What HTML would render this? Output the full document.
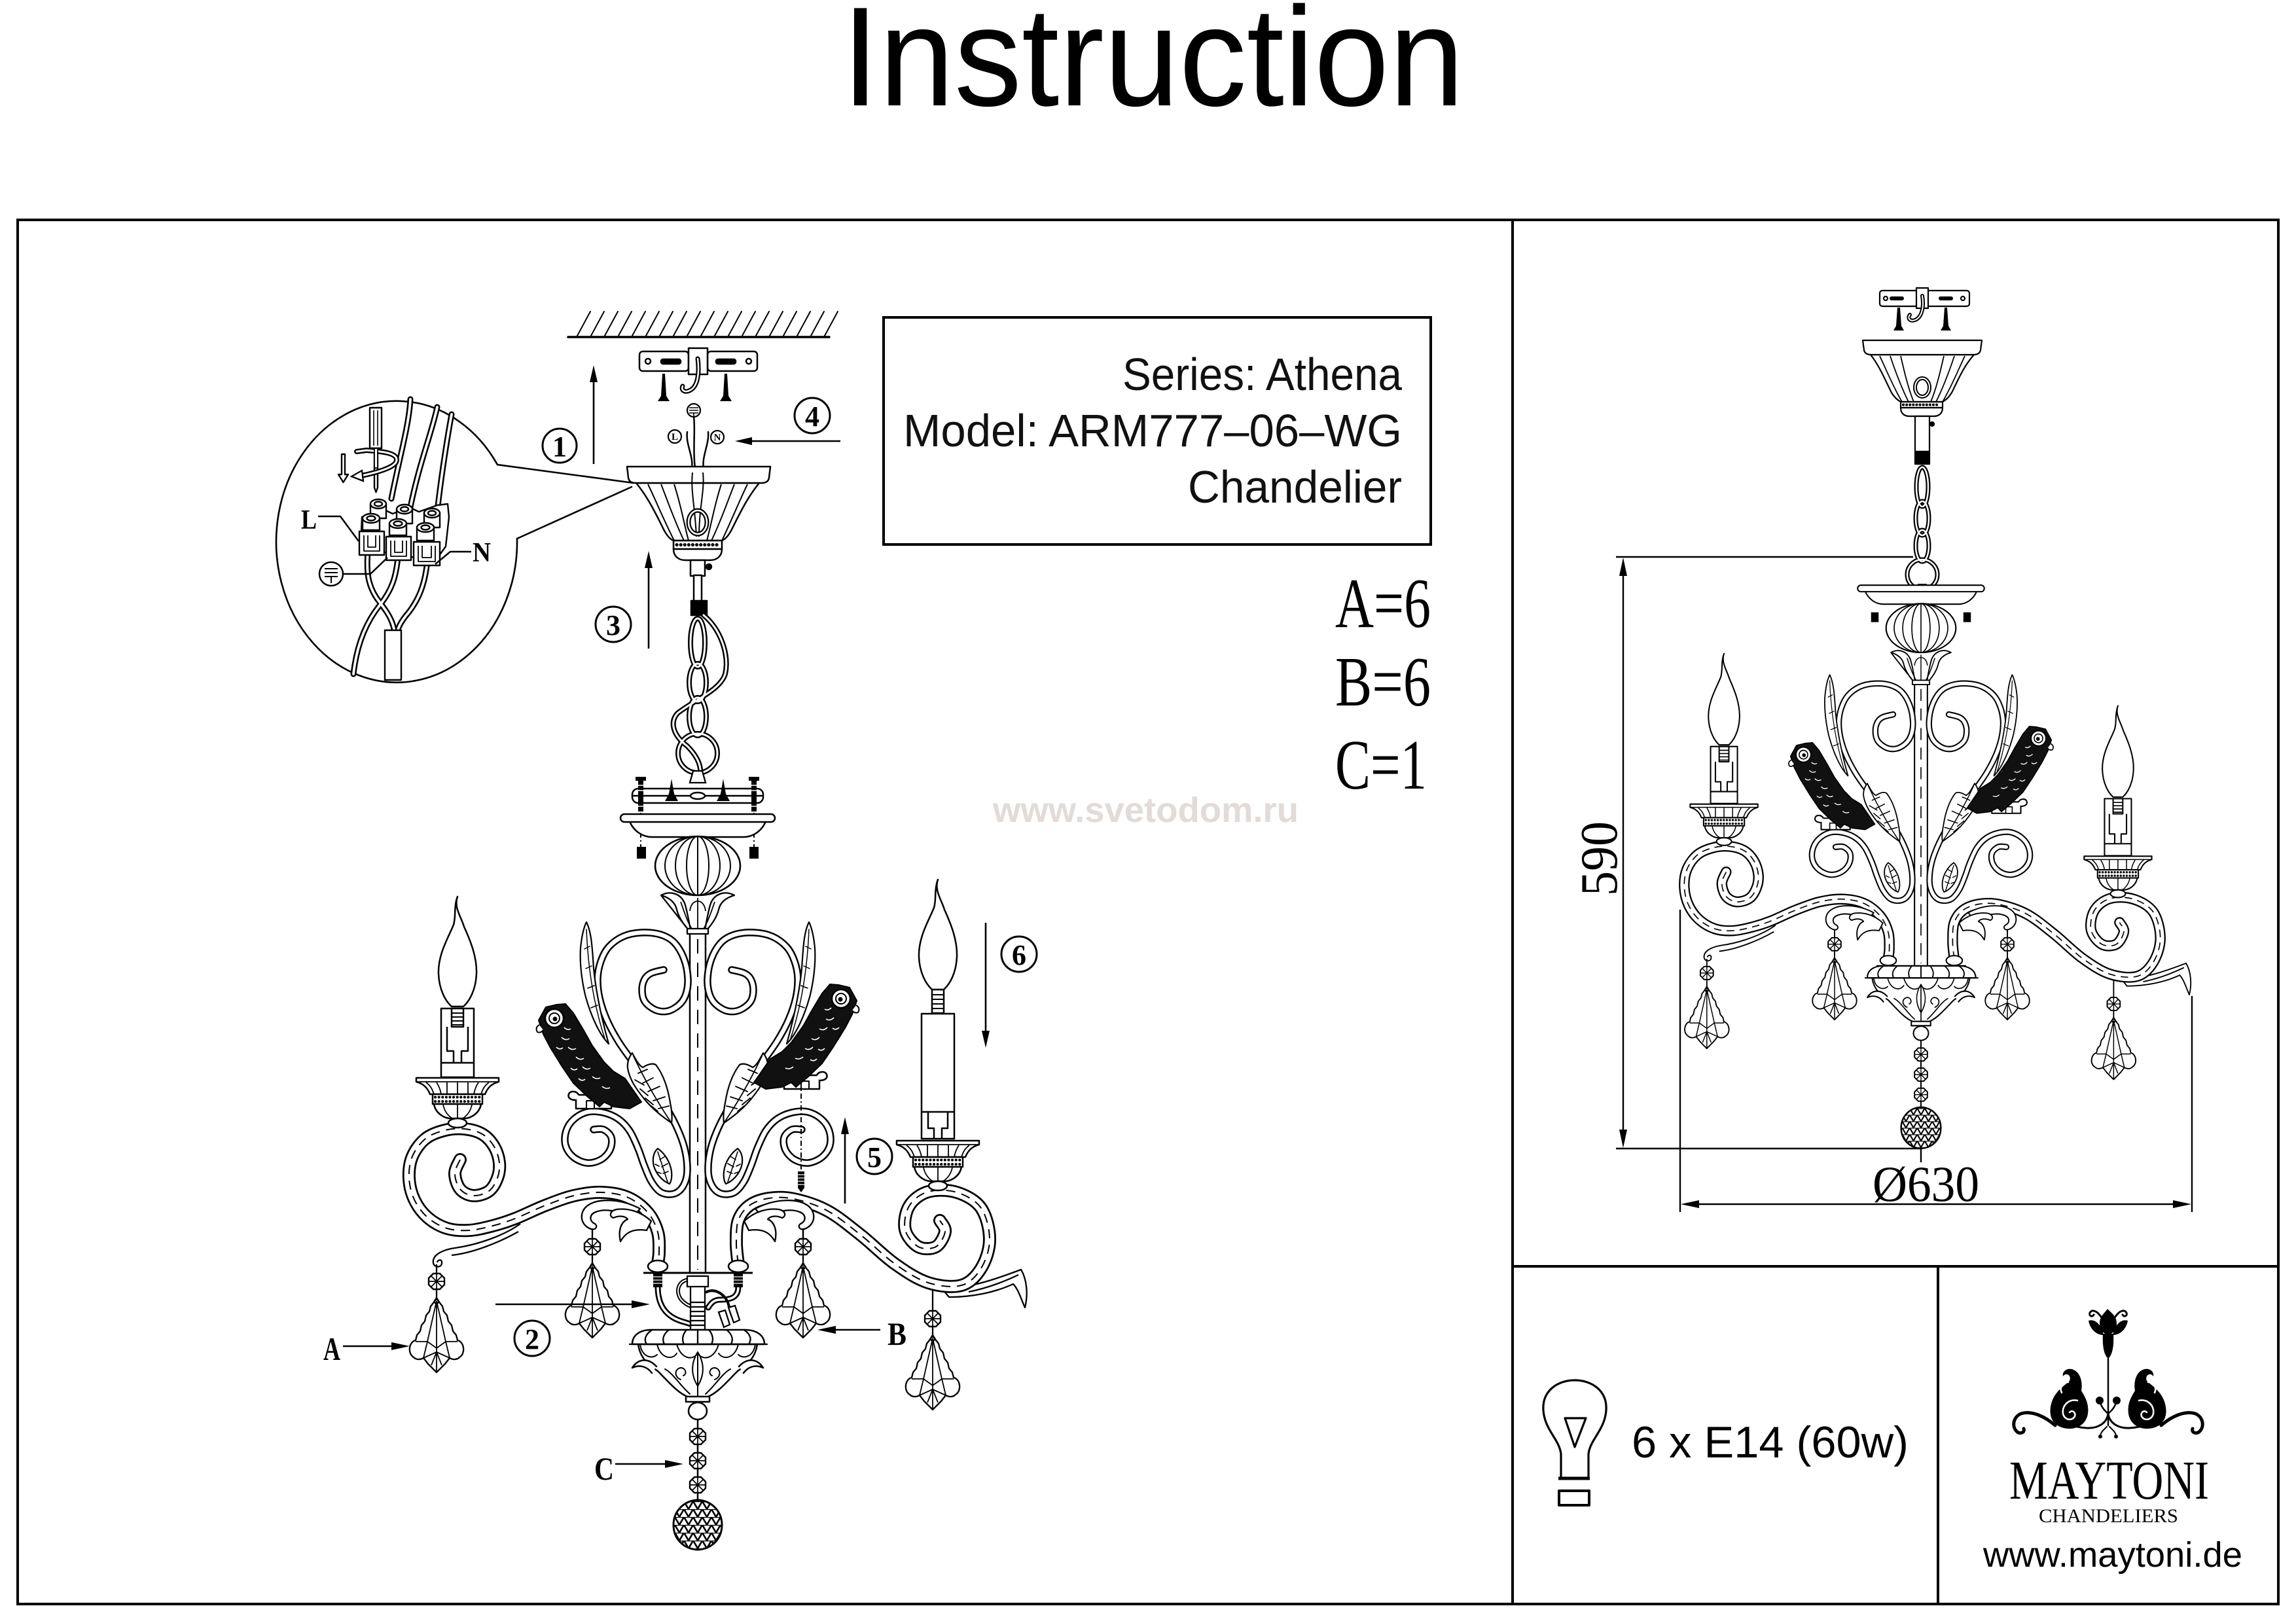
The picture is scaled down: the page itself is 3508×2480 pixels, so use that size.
<!DOCTYPE html>
<html><head><meta charset="utf-8"><title>Instruction</title>
<style>html,body{margin:0;padding:0;background:#fff;overflow:hidden}svg{display:block}</style>
</head><body>
<svg xmlns="http://www.w3.org/2000/svg" width="3508" height="2480" viewBox="0 0 3508 2480">
<defs>
<pattern id="tri" patternUnits="userSpaceOnUse" width="14" height="12"><path d="M0,12 L7,0 L14,12 M0,0 H14" fill="none" stroke="#000" stroke-width="2.6"/></pattern>

<polyline id="HL" class="sm" points="1014,1482 995,1487 985,1496 981,1512 985,1530 1001,1543 1020,1545 1038,1535 1048,1519 1051,1495 1045,1465 1030,1440 1009,1428 980,1425 952,1431 930,1447 918,1469 913,1495 916,1525 927,1558 944,1590 965,1620 988,1650 1012,1683 1032,1718 1046,1755 1050,1790 1044,1812 1030,1824 1010,1822 995,1805 984,1780 975,1755 962,1728 945,1710 922,1700 898,1699 877,1710 865,1728 864,1750 876,1768 897,1777 918,1772 932,1757 934,1738 922,1726 907,1726"/>
<polyline id="AL" class="sm" points="703,1772 695,1793 703,1817 723,1827 747,1820 760,1800 763,1777 755,1752 737,1733 710,1725 680,1727 650,1740 630,1767 625,1800 633,1833 653,1860 683,1877 717,1880 753,1873 787,1862 833,1842 877,1827 920,1822 960,1830 990,1853 1005,1883 1007,1913 1005,1930"/>
<polyline id="AR" class="sm" points="1128,1932 1125,1900 1128,1865 1145,1842 1175,1831 1213,1832 1264,1850 1315,1887 1367,1931 1418,1960 1469,1964 1499,1938 1512,1894 1499,1846 1462,1822 1418,1821 1389,1843 1383,1879 1403,1905 1430,1905 1444,1882 1436,1865"/>

<g id="bead">
<polygon points="12,5 5,12 -5,12 -12,5 -12,-5 -5,-12 5,-12 12,-5" fill="#fff" stroke="#000" stroke-width="2.4"/>
<path d="M0,-12V12M-12,0H12M-8.5,-8.5L8.5,8.5M-8.5,8.5L8.5,-8.5" stroke="#000" stroke-width="1.7" fill="none"/>
</g>

<g id="pend" fill="none" stroke="#000" stroke-width="2.3" stroke-linejoin="round">
<line x1="0" y1="12" x2="0" y2="27"/>
<path fill="#fff" d="M0,25 L5,33 L9,38 L11,46 L16,52 L18,61 L23,67 L25,76 L30,82 L32,90 C42,92 45,110 35,116 C31,120 25,120 20,117 L13,126 L0,139 L-13,126 L-20,117 C-25,120 -31,120 -35,116 C-45,110 -42,92 -32,90 L-30,82 L-25,76 L-23,67 L-18,61 L-16,52 L-11,46 L-9,38 L-5,33 Z"/>
<path d="M0,30 V139 M0,30 L-14,92 M0,30 L14,92 M-32,92 L-14,92 L0,102 L14,92 L32,92 M-14,92 L-20,117 M14,92 L20,117 M-20,117 L0,108 L20,117 M0,108 L-8,128 M0,108 L8,128" stroke-width="1.8"/>
<circle cx="0" cy="31" r="3"/>
<use href="#bead"/>
</g>

<g id="ball"><path d="M0,-38 C21,-37 37,-21 37,0 C37,22 21,37 0,38 C-21,37 -37,22 -37,0 C-37,-21 -21,-37 0,-38 Z" fill="url(#tri)" stroke="#000" stroke-width="3"/></g>

<g id="flame"><path d="M0,-278 C-6,-262 6,-246 10,-232 C20,-210 30,-185 29,-160 C28,-135 18,-118 9,-110 L-9,-110 C-18,-118 -28,-135 -29,-160 C-30,-190 -14,-215 -6,-235 C-2,-248 -6,-262 0,-278 Z" fill="#fff" stroke="#000" stroke-width="2.5"/></g>

<g id="ctop" fill="#fff" stroke="#000" stroke-width="2.5" stroke-linejoin="round">
<rect x="-25" y="-107" width="50" height="105"/>
<rect x="-9" y="-107" width="18" height="28"/>
<path d="M-9,-100 H9 M-9,-94 H9 M-9,-88 H9 M-9,-82 H9" fill="none" stroke-width="2"/>
<path d="M-16,-79 V-42 H-6 V-24 H6 V-42 H16 V-79 M-25,-24 H25" fill="none"/>
<use href="#flame"/>
</g>

<g id="cup" stroke="#000" stroke-width="2.5" stroke-linejoin="round">
<path d="M-63,-1 H63 V5 C52,8 46,14 42,24 H-42 C-46,14 -52,8 -63,5 Z" fill="#fff"/>
<path d="M-63,5 H63 M-48,6 C-40,12 -38,18 -36,24 M-32,6 C-28,12 -26,18 -25,24 M-16,6 V24 M0,6 V24 M16,6 V24 M32,6 C28,12 26,18 25,24 M48,6 C40,12 38,18 36,24" fill="none" stroke-width="1.8"/>
<rect x="-38" y="24" width="76" height="15" fill="#fff"/>
<line x1="-34" y1="28.5" x2="34" y2="28.5" stroke-dasharray="0.1 5.5" stroke-linecap="round" stroke-width="4"/>
<line x1="-34" y1="35" x2="34" y2="35" stroke-dasharray="0.1 5.5" stroke-linecap="round" stroke-width="4"/>
<path d="M-36,39 C-34,52 -22,60 -12,61 H12 C22,60 34,52 36,39 Z" fill="#fff"/>
<path d="M-22,40 C-20,50 -14,57 -8,61 M0,40 V61 M22,40 C20,50 14,57 8,61" fill="none" stroke-width="1.8"/>
<ellipse cx="0" cy="68" rx="14" ry="7" fill="#fff"/>
</g>

<g id="bird" stroke="#000" stroke-linejoin="round">
<path d="M880,1673 H934 V1694 H880 Z" fill="#fff" stroke-width="2.5"/>
<path d="M880,1681 C870,1681 866,1676 870,1670 C874,1666 882,1668 884,1673" fill="#fff" stroke-width="2.5"/>
<rect x="896" y="1682" width="12" height="12" fill="#fff" stroke-width="2"/>
<path d="M823,1559 L834,1539 851,1535 864,1534 876,1548 891,1573 905,1598 923,1623 937,1637 955,1648 L980,1684 962,1694 937,1691 923,1684 916,1691 898,1676 876,1655 859,1630 841,1601 830,1580 Z" fill="#111" stroke-width="2"/>
<path d="M858,1585 q6,6 12,2 M868,1600 q6,6 12,2 M880,1615 q6,6 12,2 M862,1570 q5,5 10,2 M890,1630 q6,6 12,2 M905,1645 q6,5 12,2 M872,1632 q5,5 10,1 M850,1600 q5,5 10,1 M920,1660 q6,5 12,2 M884,1648 q5,5 10,1" fill="none" stroke="#fff" stroke-width="1.6"/>
<circle cx="847" cy="1556" r="14" fill="#fff" stroke-width="2.5"/>
<circle cx="847" cy="1556" r="8" fill="none" stroke-width="2"/>
<circle cx="848" cy="1557" r="3" fill="#000"/>
<path d="M824,1566 q-7,4 -3,11 q5,2 9,-3" fill="#fff" stroke-width="2"/>
</g>

<g id="leafs" stroke="#000" stroke-width="2.2" stroke-linejoin="round" stroke-linecap="round">
<path d="M896,1409 C904,1425 905,1450 907,1480 C910,1510 916,1545 930,1595 C915,1580 902,1550 894,1520 C887,1490 885,1460 888,1440 C890,1425 893,1415 896,1409 Z" fill="#fff"/>
<path d="M896,1420 C898,1470 905,1530 925,1590 M893,1450 l8,-4 M895,1480 l9,-4 M898,1510 l10,-4 M903,1540 l10,-4" fill="none" stroke-width="1.5"/>
<path d="M966,1609 C972,1620 976,1628 982,1631 C990,1626 997,1624 1002,1627 C1012,1640 1020,1660 1024,1685 C1027,1700 1027,1710 1026,1716 C1015,1708 1000,1698 985,1680 C972,1664 962,1650 959,1632 C958,1622 962,1614 966,1609 Z" fill="#fff"/>
<path d="M968,1614 C985,1650 1005,1685 1026,1716 M975,1640 l14,-6 M982,1655 l16,-8 M990,1668 l18,-8 M998,1682 l18,-6 M1006,1694 l16,-4 M970,1650 l14,8 M978,1664 l12,10 M986,1678 l12,10 M995,1690 l10,8" fill="none" stroke-width="1.8"/>
<path d="M1005,1755 C1015,1762 1024,1775 1026,1790 C1027,1800 1025,1806 1023,1809 C1013,1805 1003,1795 999,1782 C996,1770 999,1760 1005,1755 Z" fill="#fff"/>
<path d="M1005,1760 L1020,1806 M1008,1772 l8,-5 M1011,1783 l9,-5 M1013,1793 l8,-3 M1007,1782 l-6,-3 M1010,1793 l-6,-2" fill="none" stroke-width="1.6"/>
</g>

<g id="acan" fill="#fff" stroke="#000" stroke-width="2.3" stroke-linejoin="round" stroke-linecap="round">
<path d="M978,1847 C950,1832 915,1830 898,1842 C884,1852 886,1872 903,1878 C910,1880 914,1874 909,1870 C900,1866 900,1856 910,1852 C925,1846 945,1850 965,1862 Z"/>
<path d="M995,1866 C978,1850 958,1846 942,1848 C932,1850 930,1858 937,1861 C946,1857 955,1858 959,1863 C949,1867 944,1880 948,1897 C956,1883 967,1877 988,1880 Z"/>
<path d="M905,1878 V1893" fill="none"/>
</g>

<g id="body" stroke-linejoin="round">
<rect x="973" y="1294" width="14" height="18" fill="#000"/>
<rect x="1145" y="1294" width="14" height="18" fill="#000"/>
<path d="M962,1255 C968,1270 982,1279 996,1279 H1136 C1150,1279 1164,1270 1170,1255 Z" fill="#fff" stroke="#000" stroke-width="2.5"/>
<rect x="948" y="1244" width="236" height="12" rx="6" fill="#fff" stroke="#000" stroke-width="2.5"/>
<ellipse cx="1066" cy="1323" rx="65" ry="45" fill="#fff" stroke="#000" stroke-width="2.6"/>
<g fill="none" stroke="#000" stroke-width="2"><ellipse cx="1066" cy="1323" rx="50" ry="45"/><ellipse cx="1066" cy="1323" rx="34" ry="45"/><ellipse cx="1066" cy="1323" rx="17" ry="45"/><line x1="1066" y1="1278" x2="1066" y2="1368"/></g>
<path d="M1010,1368 C1025,1360 1040,1366 1046,1380 C1050,1392 1052,1405 1055,1421 H1077 C1080,1405 1082,1392 1086,1380 C1092,1366 1107,1360 1122,1368 C1108,1372 1100,1380 1098,1390 C1095,1402 1088,1412 1080,1421 M1052,1421 C1044,1412 1037,1402 1034,1390 C1032,1380 1024,1372 1010,1368 Z" fill="#fff" stroke="#000" stroke-width="2.3"/>
<path d="M1054,1392 C1056,1372 1076,1372 1078,1392 M1066,1372 V1420 M1040,1378 C1046,1395 1050,1408 1058,1421 M1092,1378 C1086,1395 1082,1408 1074,1421" fill="none" stroke="#000" stroke-width="1.8"/>
<rect x="1054" y="1425" width="24" height="520" fill="#fff" stroke="#000" stroke-width="2.5"/>
<line x1="1066" y1="1435" x2="1066" y2="1940" stroke="#000" stroke-width="2" stroke-dasharray="22 14"/>
<rect x="1050" y="1419" width="32" height="8" fill="#fff" stroke="#000" stroke-width="2.3"/>
<g fill="none" stroke-linecap="round" stroke-linejoin="round">
<use href="#HL" stroke="#000" stroke-width="11.5"/>
<use href="#HL" stroke="#fff" stroke-width="6.5"/>
<use href="#HL" transform="translate(2132,0) scale(-1,1)" stroke="#000" stroke-width="11.5"/>
<use href="#HL" transform="translate(2132,0) scale(-1,1)" stroke="#fff" stroke-width="6.5"/>
</g>
<use href="#leafs"/>
<use href="#leafs" transform="translate(2132,0) scale(-1,1)"/>
<use href="#bird"/>
<use href="#bird" transform="translate(2132,-30) scale(-1,1)"/>
<path d="M795,1870 C770,1888 730,1902 695,1907 C675,1910 660,1918 662,1930 C664,1938 675,1937 675,1930 C676,1924 669,1924 668,1929 M690,1918 C720,1915 760,1900 792,1882" fill="#fff" stroke="#000" stroke-width="2.3"/>
<path d="M1440,1970 C1485,1968 1528,1952 1560,1940 C1569,1955 1571,1978 1566,1998 C1560,1985 1556,1970 1548,1962 C1520,1975 1485,1982 1450,1982 Z M1480,1974 C1510,1968 1535,1958 1556,1948" fill="#fff" stroke="#000" stroke-width="2.3"/>
<g fill="none" stroke-linecap="round" stroke-linejoin="round">
<use href="#AL" stroke="#000" stroke-width="20"/>
<use href="#AL" stroke="#fff" stroke-width="14.5"/>
<use href="#AL" stroke="#000" stroke-width="2" stroke-dasharray="14 10" stroke-linecap="butt"/>
<use href="#AR" stroke="#000" stroke-width="20"/>
<use href="#AR" stroke="#fff" stroke-width="14.5"/>
<use href="#AR" stroke="#000" stroke-width="2" stroke-dasharray="14 10" stroke-linecap="butt"/>
</g>
<use href="#acan"/>
<use href="#acan" transform="translate(2132,0) scale(-1,1)"/>
<line x1="983" y1="1945" x2="1150" y2="1945" stroke="#000" stroke-width="3"/>
<ellipse cx="1005" cy="1935" rx="15" ry="9" fill="#fff" stroke="#000" stroke-width="2.5"/>
<ellipse cx="1128" cy="1935" rx="15" ry="9" fill="#fff" stroke="#000" stroke-width="2.5"/>
<use href="#cup" transform="translate(699,1648)"/>
<use href="#cup" transform="translate(1433,1744)"/>
<line x1="667" y1="1932" x2="667" y2="1946" stroke="#000" stroke-width="2.3"/>
<line x1="1227" y1="1878" x2="1227" y2="1893" stroke="#000" stroke-width="2.3"/>
<line x1="1425" y1="1972" x2="1425" y2="2003" stroke="#000" stroke-width="2.3"/>
<use href="#pend" transform="translate(667,1958)"/>
<use href="#pend" transform="translate(905,1905)"/>
<use href="#pend" transform="translate(1227,1905)"/>
<use href="#pend" transform="translate(1425,2015)"/>
</g>

<g id="lower" stroke="#000" stroke-width="2.5" stroke-linejoin="round" stroke-linecap="round">
<line x1="1066" y1="2168" x2="1066" y2="2294"/>
<use href="#bead" transform="translate(1066,2195)"/>
<use href="#bead" transform="translate(1066,2232)"/>
<use href="#bead" transform="translate(1066,2269)"/>
<use href="#ball" transform="translate(1066,2330)"/>
<ellipse cx="1066" cy="2156" rx="14" ry="13" fill="#fff"/>
<rect x="1048" y="2133" width="36" height="9" fill="#fff"/>
<path d="M975,2054 C978,2075 990,2085 1005,2095 C1020,2110 1035,2128 1050,2134 H1082 C1097,2128 1112,2110 1127,2095 C1142,2085 1154,2075 1157,2054 Z" fill="#fff"/>
<path d="M1003,2088 C990,2074 975,2076 966,2090 C980,2084 990,2090 996,2098 M1129,2088 C1142,2074 1157,2076 1166,2090 C1152,2084 1142,2090 1136,2098" fill="#fff"/>
<path d="M1066,2066 C1056,2082 1055,2100 1066,2118 C1077,2100 1076,2082 1066,2066 M1066,2066 V2134 M1040,2108 C1030,2104 1030,2092 1040,2090 C1048,2090 1050,2100 1044,2102 M1092,2108 C1102,2104 1102,2092 1092,2090 C1084,2090 1082,2100 1088,2102 M1016,2092 C1028,2098 1040,2118 1054,2130 M1116,2092 C1104,2098 1092,2118 1078,2130" fill="none" stroke-width="2"/>
<path d="M978,2054 C980,2072 995,2078 1004,2070 M1004,2054 C1008,2074 1026,2080 1034,2068 M1034,2054 C1040,2076 1058,2080 1066,2068 M1066,2068 C1074,2080 1092,2076 1098,2054 M1098,2068 C1106,2080 1124,2074 1128,2054 M1128,2070 C1137,2078 1152,2072 1154,2054" fill="none" stroke-width="2"/>
<path d="M966,2054 C966,2040 978,2032 995,2032 H1138 C1155,2032 1168,2040 1168,2054 Z" fill="#fff"/>
<path d="M962,2054 H1172 M995,2033 C985,2040 984,2048 988,2054 M1022,2032 C1012,2040 1012,2048 1015,2054 M1049,2032 C1042,2040 1042,2048 1045,2054 M1083,2032 C1090,2040 1090,2048 1087,2054 M1110,2032 C1120,2040 1120,2048 1117,2054 M1138,2033 C1148,2040 1148,2048 1144,2054 M1066,2034 V2054" fill="none" stroke-width="2.3"/>
</g>
</defs>

<rect width="3508" height="2480" fill="#fff"/>

<!-- Title and frame -->
<text x="1286" y="161" font-family="'Liberation Sans', Arial, sans-serif" font-size="216" textLength="951" lengthAdjust="spacingAndGlyphs">Instruction</text>
<g fill="none" stroke="#000" stroke-width="4">
<rect x="27" y="336" width="3454" height="2115"/>
<line x1="2311" y1="336" x2="2311" y2="2451"/>
<line x1="2311" y1="1935" x2="3481" y2="1935"/>
<line x1="2961" y1="1935" x2="2961" y2="2451"/>
</g>

<!-- info box -->
<rect x="1350" y="485" width="836" height="347" fill="none" stroke="#000" stroke-width="4"/>
<g font-family="'Liberation Sans', Arial, sans-serif" font-size="70" fill="#111">
<text x="1715" y="596" textLength="427" lengthAdjust="spacingAndGlyphs">Series: Athena</text>
<text x="1380" y="682" textLength="762" lengthAdjust="spacingAndGlyphs">Model: ARM777–06–WG</text>
<text x="1815" y="768" textLength="327" lengthAdjust="spacingAndGlyphs">Chandelier</text>
</g>
<g font-family="'Liberation Serif', 'Times New Roman', serif" font-size="108" fill="#000">
<text x="2040" y="958" textLength="146" lengthAdjust="spacingAndGlyphs">A=6</text>
<text x="2040" y="1078" textLength="146" lengthAdjust="spacingAndGlyphs">B=6</text>
<text x="2040" y="1205" textLength="140" lengthAdjust="spacingAndGlyphs">C=1</text>
</g>
<text x="1517" y="1256" font-family="'Liberation Sans', Arial, sans-serif" font-weight="bold" font-size="54" fill="#e2dbd8" textLength="467" lengthAdjust="spacingAndGlyphs">www.svetodom.ru</text>

<!-- ===== LEFT DRAWING ===== -->
<g fill="none" stroke="#000" stroke-width="2.5" stroke-linejoin="round" stroke-linecap="round">
<line x1="868" y1="515" x2="1267" y2="515" stroke-width="3.5"/>
<path d="M882,513 l20,-37 M903,513 l20,-37 M924,513 l20,-37 M945,513 l20,-37 M966,513 l20,-37 M987,513 l20,-37 M1008,513 l20,-37 M1029,513 l20,-37 M1050,513 l20,-37 M1071,513 l20,-37 M1092,513 l20,-37 M1113,513 l20,-37 M1134,513 l20,-37 M1155,513 l20,-37 M1176,513 l20,-37 M1197,513 l20,-37 M1218,513 l20,-37 M1239,513 l20,-37 M1260,513 l20,-37" stroke-width="2"/>
<rect x="977" y="537" width="75" height="30" rx="5" fill="#fff"/>
<rect x="1081" y="537" width="76" height="30" rx="5" fill="#fff"/>
<rect x="1052" y="532" width="29" height="40" fill="#fff"/>
<circle cx="990" cy="552" r="4"/><circle cx="1144" cy="552" r="4"/>
<rect x="1010" y="549" width="30" height="7" rx="3" fill="#000"/>
<rect x="1094" y="549" width="30" height="7" rx="3" fill="#000"/>
<path d="M1066,548 C1069,570 1066,590 1055,596 C1046,601 1040,596 1043,590" stroke-width="7"/>
<path d="M1066,548 C1069,570 1066,590 1055,596 C1046,601 1040,596 1043,590" stroke="#fff" stroke-width="2.5"/>
</g>
<path d="M1012,571 H1016 L1018,605 L1023,613 H1005 L1010,605 Z M1107,571 H1111 L1113,605 L1118,613 H1100 L1105,605 Z" fill="#000"/>
<g fill="#fff" stroke="#000" stroke-width="2.2">
<circle cx="1060" cy="627" r="10"/>
<path d="M1053,623 H1067 M1053,627 H1067 M1053,631 H1067 M1060,631 V636" fill="none" stroke-width="1.6"/>
<circle cx="1031" cy="667" r="10"/><circle cx="1096" cy="668" r="10"/>
</g>
<g font-family="'Liberation Serif', serif" font-weight="bold" font-size="15" text-anchor="middle"><text x="1031" y="672">L</text><text x="1096" y="673">N</text></g>
<g fill="none" stroke="#000" stroke-width="2.5" stroke-linecap="round">
<path d="M1060,637 C1063,660 1057,690 1064,730 C1066,760 1062,780 1066,800"/>
<path d="M1050,660 C1047,680 1062,700 1056,720 C1052,745 1060,770 1058,800"/>
<path d="M1082,660 C1084,680 1070,700 1076,720 C1080,745 1070,770 1074,800"/>
</g>
<g fill="#fff" stroke="#000" stroke-width="2.5" stroke-linejoin="round">
<path d="M972,738 C990,760 1002,785 1012,805 C1018,818 1024,824 1029,826 H1103 C1108,824 1114,818 1120,805 C1130,785 1142,760 1160,738 Z"/>
<path d="M958,713 H1177 L1175,730 C1174,736 1170,738 1163,738 H972 C965,738 961,736 960,730 Z"/>
<path d="M990,740 C1000,760 1012,790 1030,826 M1010,740 C1020,765 1030,795 1045,826 M1030,740 C1040,770 1045,800 1052,826 M1102,740 C1092,770 1087,800 1080,826 M1122,740 C1112,765 1102,795 1087,826 M1142,740 C1132,760 1120,790 1103,826" fill="none" stroke-width="2"/>
<path d="M1058,722 C1055,750 1062,775 1064,820 M1074,722 C1077,750 1068,775 1068,820" fill="none" stroke-width="2"/>
<ellipse cx="1066" cy="798" rx="14" ry="18" fill="none" stroke-width="7"/>
<ellipse cx="1066" cy="798" rx="14" ry="18" fill="none" stroke="#fff" stroke-width="2.5"/>
<rect x="1029" y="826" width="74" height="13"/>
<line x1="1034" y1="832.5" x2="1099" y2="832.5" stroke-dasharray="0.1 6" stroke-linecap="round" stroke-width="5"/>
<path d="M1029,839 H1103 C1103,850 1095,856 1085,856 H1047 C1037,856 1029,850 1029,839 Z"/>
<rect x="1055" y="856" width="22" height="24"/>
<circle cx="1083" cy="866" r="4" fill="#000"/>
<rect x="1060" y="879" width="12" height="40"/>
<rect x="1056" y="918" width="24" height="22" fill="#000"/>
</g>
<g fill="none" stroke-linecap="round">
<g stroke="#000" stroke-width="8">
<ellipse cx="1066" cy="982" rx="11" ry="37"/><ellipse cx="1066" cy="1043" rx="13" ry="29"/><ellipse cx="1066" cy="1095" rx="13" ry="29"/><circle cx="1066" cy="1151" r="30"/>
<path d="M1075,940 C1100,960 1115,1000 1108,1030 C1100,1055 1060,1070 1035,1090 C1022,1105 1030,1125 1050,1140 C1065,1155 1072,1170 1070,1185"/>
</g>
<g stroke="#fff" stroke-width="3">
<ellipse cx="1066" cy="982" rx="11" ry="37"/><ellipse cx="1066" cy="1043" rx="13" ry="29"/><ellipse cx="1066" cy="1095" rx="13" ry="29"/><circle cx="1066" cy="1151" r="30"/>
<path d="M1075,940 C1100,960 1115,1000 1108,1030 C1100,1055 1060,1070 1035,1090 C1022,1105 1030,1125 1050,1140 C1065,1155 1072,1170 1070,1185"/>
</g>
</g>
<path d="M1059,1178 H1073 L1078,1196 H1054 Z" fill="#fff" stroke="#000" stroke-width="2.3"/>
<g stroke="#000" stroke-width="2.5">
<rect x="966" y="1205" width="200" height="22" rx="9" fill="#fff"/>
<line x1="966" y1="1216" x2="1166" y2="1216"/>
<ellipse cx="1066" cy="1216" rx="11" ry="5" fill="#fff"/>
<line x1="979" y1="1242" x2="979" y2="1294" stroke-dasharray="6 4 2 4" stroke-width="2"/>
<line x1="1152" y1="1242" x2="1152" y2="1294" stroke-dasharray="6 4 2 4" stroke-width="2"/>
</g>
<path d="M971,1187 H987 V1193 H983 V1240 H975 V1193 H971 Z M1144,1187 H1160 V1193 H1156 V1240 H1148 V1193 H1144 Z M1026,1190 L1030,1213 L1036,1224 H1016 L1022,1213 Z M1105,1190 L1109,1213 L1115,1224 H1095 L1101,1213 Z" fill="#000"/>
<path d="M975,1200 h8 M975,1208 h8 M975,1232 h8 M1148,1200 h8 M1148,1208 h8 M1148,1232 h8" stroke="#fff" stroke-width="1.5"/>

<use href="#body"/>
<use href="#ctop" transform="translate(699,1648)"/>
<g transform="translate(1433,1744)" fill="#fff" stroke="#000" stroke-width="2.5" stroke-linejoin="round">
<rect x="-25" y="-195" width="50" height="191"/>
<path d="M-25,-45 H25 M-15,-45 V-20 H-6 V-4 M6,-4 V-20 H15 V-45" fill="none"/>
<rect x="-9" y="-232" width="18" height="36"/>
<path d="M-9,-224 H9 M-9,-217 H9 M-9,-210 H9 M-9,-203 H9" fill="none" stroke-width="2"/>
<use href="#flame" transform="translate(0,-122)"/>
</g>
<g stroke="#000" stroke-linejoin="round" stroke-linecap="round" fill="none">
<path d="M1005,1966 C1005,1992 1015,2012 1045,2020 L1058,2024" stroke-width="9"/>
<path d="M1005,1966 C1005,1992 1015,2012 1045,2020 L1058,2024" stroke="#fff" stroke-width="3.5"/>
<path d="M1128,1966 C1128,1982 1118,1986 1100,1986 C1090,1986 1086,1992 1082,1998" stroke-width="9"/>
<path d="M1128,1966 C1128,1982 1118,1986 1100,1986 C1090,1986 1086,1992 1082,1998" stroke="#fff" stroke-width="3.5"/>
<path d="M1058,1956 C1040,1952 1030,1970 1040,1985 C1046,1992 1052,1995 1056,1996" stroke-width="6"/>
<path d="M1058,1956 C1040,1952 1030,1970 1040,1985 C1046,1992 1052,1995 1056,1996" stroke="#fff" stroke-width="2"/>
</g>
<rect x="998" y="1946" width="14" height="21" fill="#000"/>
<rect x="1121" y="1946" width="14" height="21" fill="#000"/>
<path d="M998,1951 h14 M998,1956 h14 M998,1961 h14 M1121,1951 h14 M1121,1956 h14 M1121,1961 h14" stroke="#fff" stroke-width="1.3"/>
<g fill="#fff" stroke="#000" stroke-width="2.3">
<rect x="1055" y="1950" width="22" height="82"/>
<path d="M1055,1990 h22 M1055,1997 h22 M1055,2004 h22 M1055,2011 h22 M1055,2018 h22 M1055,2025 h22 M1050,1950 h32 v16 h-32 z" />
<path d="M1078,1975 C1090,1968 1105,1975 1112,1990 L1118,2010" fill="none" stroke-width="4"/>
<path d="M1098,2005 L1108,2002 L1115,2024 L1106,2028 Z M1113,1998 L1123,1995 L1130,2017 L1121,2021 Z"/>
</g>
<use href="#lower"/>
<line x1="1224" y1="1653" x2="1224" y2="1790" stroke="#000" stroke-width="2" stroke-dasharray="8 4 2 4"/>
<rect x="1219" y="1790" width="10" height="25" fill="#000"/>
<path d="M1219,1795 h10 M1219,1800 h10 M1219,1805 h10 M1219,1810 h10" stroke="#fff" stroke-width="1.2"/>
<path d="M1219,1815 L1224,1822 L1229,1815 Z" fill="#000"/>

<!-- magnifier -->
<g fill="none" stroke="#000" stroke-width="2.6" stroke-linejoin="round" stroke-linecap="round">
<path d="M760,710 A184,215 0 1 0 790,823"/>
<path d="M760,710 L968,738 M790,823 L965,744"/>
</g>
<g fill="none" stroke-linecap="round" stroke-linejoin="round">
<g stroke="#000" stroke-width="9">
<path d="M627,610 C625,650 610,700 598,762"/><path d="M668,622 C660,660 640,710 627,775"/><path d="M690,633 C685,660 675,720 668,782"/>
<path d="M562,842 C560,870 560,895 580,920 C595,940 606,955 604,990"/>
<path d="M608,852 C605,880 600,900 580,925 C560,950 545,985 540,1030"/>
<path d="M652,865 C648,895 640,915 625,935 C612,950 607,960 605,975"/>
</g>
<g stroke="#fff" stroke-width="3.8">
<path d="M627,610 C625,650 610,700 598,762"/><path d="M668,622 C660,660 640,710 627,775"/><path d="M690,633 C685,660 675,720 668,782"/>
<path d="M562,842 C560,870 560,895 580,920 C595,940 606,955 604,990"/>
<path d="M608,852 C605,880 600,900 580,925 C560,950 545,985 540,1030"/>
<path d="M652,865 C648,895 640,915 625,935 C612,950 607,960 605,975"/>
</g>
</g>
<g fill="#fff" stroke="#000" stroke-width="2.4" stroke-linejoin="round">
<rect x="588" y="963" width="25" height="76"/>
<polygon points="553,790 585,778 600,785 625,775 640,782 668,772 684,770 686,790 681,835 663,860 640,853 600,846 551,838"/>
<path d="M566,770 V792 H590 V770"/><ellipse cx="578" cy="770" rx="12" ry="7"/><ellipse cx="578" cy="770" rx="6" ry="3.5" fill="none"/>
<path d="M606,778 V800 H630 V778"/><ellipse cx="618" cy="778" rx="12" ry="7"/><ellipse cx="618" cy="778" rx="6" ry="3.5" fill="none"/>
<path d="M648,784 V806 H672 V784"/><ellipse cx="660" cy="784" rx="12" ry="7"/><ellipse cx="660" cy="784" rx="6" ry="3.5" fill="none"/>
<rect x="549" y="812" width="38" height="36"/><path d="M556,818 V842 H580 V818 M562,818 V836 H574 V818" fill="none" stroke-width="1.8"/>
<rect x="590" y="820" width="38" height="36"/><path d="M597,826 V850 H621 V826 M603,826 V844 H615 V826" fill="none" stroke-width="1.8"/>
<rect x="632" y="828" width="40" height="36"/><path d="M639,834 V858 H665 V834 M645,834 V852 H659 V834" fill="none" stroke-width="1.8"/>
<path d="M554,792 V810 H580 V792"/><ellipse cx="567" cy="792" rx="13" ry="7"/><ellipse cx="567" cy="792" rx="6.5" ry="3.5" fill="none"/>
<path d="M595,800 V818 H621 V800"/><ellipse cx="608" cy="800" rx="13" ry="7"/><ellipse cx="608" cy="800" rx="6.5" ry="3.5" fill="none"/>
<path d="M637,806 V826 H663 V806"/><ellipse cx="650" cy="806" rx="13" ry="7"/><ellipse cx="650" cy="806" rx="6.5" ry="3.5" fill="none"/>
<rect x="565" y="623" width="18" height="62"/>
<path d="M571,627 V681 M577,627 V681" fill="none" stroke-width="1.6"/>
<rect x="566" y="685" width="16" height="6"/>
<path d="M572,691 V745 L574.5,752 L577,745 V691"/>
<path d="M522,694 H527 V725 H532 L524.5,737 L517,725 H522 Z"/>
</g>
<g fill="none" stroke-linecap="round" stroke-linejoin="round">
<path d="M545,690 L560,688 C585,690 605,692 606,702 C607,712 585,720 552,727" stroke="#000" stroke-width="8"/>
<path d="M545,690 L560,688 C585,690 605,692 606,702 C607,712 585,720 552,727" stroke="#fff" stroke-width="3"/>
</g>
<polygon points="553,719 537,728 555,735" fill="#fff" stroke="#000" stroke-width="2.3"/>
<rect x="572" y="685" width="5" height="30" fill="#fff" stroke="#000" stroke-width="1.8"/>
<g fill="none" stroke="#000" stroke-width="2.5" stroke-linejoin="round">
<path d="M486,789 H520 L548,827"/>
<path d="M720,843 H688 L665,862"/>
<circle cx="506" cy="877" r="18" fill="#fff"/>
<path d="M496,869 H516 M496,875 H516 M496,881 H516 M506,881 V891" stroke-width="2"/>
<path d="M524,877 H566 L592,852"/>
</g>
<g font-family="'Liberation Serif', serif" font-weight="bold" font-size="42">
<text x="460" y="808" textLength="24" lengthAdjust="spacingAndGlyphs">L</text>
<text x="722" y="858" textLength="28" lengthAdjust="spacingAndGlyphs">N</text>
</g>

<!-- circled numbers & arrows -->
<g fill="#fff" stroke="#000" stroke-width="3">
<circle cx="855" cy="681" r="26"/><circle cx="813" cy="2045" r="27"/><circle cx="937" cy="954" r="27"/>
<circle cx="1241" cy="635" r="27"/><circle cx="1336" cy="1767" r="27"/><circle cx="1557" cy="1458" r="27"/>
</g>
<g font-family="'Liberation Serif', serif" font-weight="bold" font-size="44" text-anchor="middle">
<text x="855" y="697">1</text><text x="813" y="2061">2</text><text x="937" y="970">3</text>
<text x="1241" y="651">4</text><text x="1336" y="1783">5</text><text x="1557" y="1474">6</text>
</g>
<g stroke="#000" stroke-width="2.6">
<line x1="907" y1="709" x2="907" y2="580"/>
<line x1="991" y1="991" x2="991" y2="864"/>
<line x1="1284" y1="674" x2="1145" y2="674"/>
<line x1="1291" y1="1839" x2="1291" y2="1729"/>
<line x1="1506" y1="1410" x2="1506" y2="1580"/>
<line x1="757" y1="1993" x2="970" y2="1993"/>
<line x1="524" y1="2057" x2="604" y2="2057"/>
<line x1="1345" y1="2032" x2="1272" y2="2032"/>
<line x1="940" y1="2237" x2="1022" y2="2237"/>
</g>
<g fill="#000">
<polygon points="907,558 901,584 913,584"/>
<polygon points="991,842 985,868 997,868"/>
<polygon points="1123,674 1149,668 1149,680"/>
<polygon points="1291,1707 1285,1733 1297,1733"/>
<polygon points="1506,1601 1500,1575 1512,1575"/>
<polygon points="993,1993 965,1987 965,1999"/>
<polygon points="626,2057 598,2051 598,2063"/>
<polygon points="1249,2032 1277,2026 1277,2038"/>
<polygon points="1044,2237 1016,2231 1016,2243"/>
</g>
<g font-family="'Liberation Serif', serif" font-weight="bold" font-size="50">
<text x="494" y="2078" textLength="26" lengthAdjust="spacingAndGlyphs">A</text>
<text x="1356" y="2055" textLength="29" lengthAdjust="spacingAndGlyphs">B</text>
<text x="908" y="2261" textLength="30" lengthAdjust="spacingAndGlyphs">C</text>
</g>

<!-- ===== RIGHT DRAWING ===== -->
<g fill="#fff" stroke="#000" stroke-width="2.2" stroke-linejoin="round">
<rect x="2872" y="444" width="58" height="24" rx="4"/>
<rect x="2944" y="444" width="65" height="24" rx="4"/>
<rect x="2928" y="440" width="18" height="31"/>
<circle cx="2881" cy="456" r="3" fill="none"/><circle cx="2999" cy="456" r="3" fill="none"/>
</g>
<rect x="2887" y="453" width="22" height="6" rx="3" fill="#000"/>
<rect x="2962" y="453" width="22" height="6" rx="3" fill="#000"/>
<path d="M2937,452 C2940,470 2936,485 2926,489 C2918,492 2914,486 2918,481" fill="none" stroke="#000" stroke-width="6" stroke-linecap="round"/>
<path d="M2937,452 C2940,470 2936,485 2926,489 C2918,492 2914,486 2918,481" fill="none" stroke="#fff" stroke-width="2" stroke-linecap="round"/>
<path d="M2899,470 H2903 L2905,498 L2909,505 H2893 L2897,498 Z M2971,470 H2975 L2977,498 L2981,505 H2965 L2969,498 Z" fill="#000"/>
<g fill="#fff" stroke="#000" stroke-width="2.2" stroke-linejoin="round">
<path d="M2858,542 C2872,560 2880,580 2890,600 C2895,608 2900,612 2904,614 H2968 C2972,612 2977,608 2982,600 C2992,580 3000,560 3016,542 Z"/>
<path d="M2846,520 H3028 L3026,535 C3025,540 3021,542 3015,542 H2859 C2853,542 2849,540 2848,535 Z"/>
<path d="M2872,544 C2882,565 2892,590 2906,614 M2888,544 C2896,568 2905,592 2916,614 M2904,544 C2910,570 2916,595 2924,614 M2970,544 C2964,570 2958,595 2950,614 M2986,544 C2978,568 2969,592 2958,614 M3002,544 C2992,565 2982,590 2968,614" fill="none" stroke-width="1.8"/>
<ellipse cx="2937" cy="592" rx="11" ry="14" fill="none" stroke-width="6"/>
<ellipse cx="2937" cy="592" rx="11" ry="14" fill="none" stroke="#fff" stroke-width="2"/>
<rect x="2904" y="614" width="64" height="9"/>
<line x1="2908" y1="618.5" x2="2964" y2="618.5" stroke-dasharray="0.1 5" stroke-linecap="round" stroke-width="4"/>
<path d="M2904,623 H2968 C2968,632 2962,636 2955,636 H2917 C2910,636 2904,632 2904,623 Z"/>
<rect x="2926" y="636" width="22" height="54"/>
<circle cx="2952" cy="648" r="3" fill="#000"/>
<rect x="2926" y="690" width="22" height="19" fill="#000"/>
</g>
<g fill="none">
<g stroke="#000" stroke-width="7"><ellipse cx="2937" cy="744" rx="9" ry="30"/><ellipse cx="2937" cy="792" rx="10" ry="26"/><ellipse cx="2937" cy="834" rx="10" ry="24"/><circle cx="2937" cy="878" r="23"/></g>
<g stroke="#fff" stroke-width="2.5"><ellipse cx="2937" cy="744" rx="9" ry="30"/><ellipse cx="2937" cy="792" rx="10" ry="26"/><ellipse cx="2937" cy="834" rx="10" ry="24"/><circle cx="2937" cy="878" r="23"/></g>
</g>
<path d="M2931,893 H2943 L2946,903 H2928 Z" fill="#fff" stroke="#000" stroke-width="2"/>

<g transform="translate(2935,1476) scale(0.82,0.83) translate(-1066,-1945)">
<use href="#body"/>
<use href="#ctop" transform="translate(699,1648)"/>
<use href="#ctop" transform="translate(1433,1744)"/>
<use href="#lower" transform="translate(0,-87)"/>
</g>

<!-- dimensions -->
<g stroke="#000" stroke-width="2.4">
<line x1="2469" y1="851" x2="2923" y2="851"/>
<line x1="2469" y1="1755" x2="2935" y2="1755"/>
<line x1="2480" y1="860" x2="2480" y2="1746"/>
<line x1="2935" y1="1755" x2="2935" y2="1776"/>
<line x1="2567" y1="1390" x2="2567" y2="1852"/>
<line x1="3349" y1="1522" x2="3349" y2="1852"/>
<line x1="2576" y1="1840" x2="3340" y2="1840"/>
</g>
<g fill="#000">
<polygon points="2480,852 2474,880 2486,880"/>
<polygon points="2480,1754 2474,1726 2486,1726"/>
<polygon points="2568,1840 2596,1834 2596,1846"/>
<polygon points="3348,1840 3320,1834 3320,1846"/>
</g>
<text transform="translate(2470,1312) rotate(-90)" text-anchor="middle" font-family="'Liberation Serif', serif" font-size="80" textLength="114" lengthAdjust="spacingAndGlyphs">590</text>
<text x="2861" y="1835" font-family="'Liberation Serif', serif" font-size="77" textLength="163" lengthAdjust="spacingAndGlyphs">Ø630</text>

<!-- lamp spec -->
<g fill="none" stroke="#000" stroke-width="3.2" stroke-linejoin="round">
<path d="M2385,2257 L2385,2222 C2383,2200 2360,2185 2358,2155 C2356,2125 2380,2109 2406,2109 C2432,2109 2456,2125 2454,2155 C2452,2185 2429,2200 2427,2222 L2427,2257"/>
<polygon points="2391,2167 2423,2167 2406,2211"/>
<rect x="2382" y="2278" width="46" height="22" stroke-width="4"/>
</g>
<line x1="2381" y1="2259" x2="2429" y2="2259" stroke="#000" stroke-width="5"/>
<text x="2493" y="2227" font-family="'Liberation Sans', Arial, sans-serif" font-size="68" textLength="423" lengthAdjust="spacingAndGlyphs">6 x E14 (60w)</text>

<!-- logo -->
<g fill="#000">
<path d="M3220,2000 C3214,2008 3208,2012 3208,2022 C3208,2032 3214,2038 3221,2040 C3228,2038 3234,2032 3234,2022 C3234,2012 3228,2008 3220,2000 Z"/>
<path d="M3191,2018 C3200,2015 3210,2022 3214,2040 C3202,2040 3193,2030 3191,2018 Z"/>
<path d="M3251,2018 C3242,2015 3232,2022 3228,2040 C3240,2040 3249,2030 3251,2018 Z"/>
<path d="M3213,2038 C3212,2055 3214,2070 3221,2076 C3228,2070 3230,2055 3229,2038 Z"/>
<path d="M3152,2103 C3150,2095 3160,2089 3168,2093 C3180,2098 3182,2115 3180,2125 C3186,2135 3192,2145 3190,2160 C3188,2175 3175,2184 3160,2183 C3140,2182 3130,2168 3133,2150 C3136,2130 3150,2120 3160,2112 C3165,2108 3163,2100 3157,2100 C3154,2100 3153,2102 3152,2103 Z"/>
<path d="M3290,2103 C3292,2095 3282,2089 3274,2093 C3262,2098 3260,2115 3262,2125 C3256,2135 3250,2145 3252,2160 C3254,2175 3267,2184 3282,2183 C3302,2182 3312,2168 3309,2150 C3306,2130 3292,2120 3282,2112 C3277,2108 3279,2100 3285,2100 C3288,2100 3289,2102 3290,2103 Z"/>
<circle cx="3208" cy="2140" r="6"/><circle cx="3234" cy="2140" r="6"/>
<circle cx="3209" cy="2195" r="3"/><circle cx="3233" cy="2195" r="3"/>
</g>
<g fill="none" stroke="#fff" stroke-width="2.6" stroke-linecap="round">
<path d="M3174,2140 C3161,2137 3150,2148 3152,2160 C3154,2170 3166,2172 3170,2164 C3172,2158 3166,2154 3162,2158"/>
<path d="M3268,2140 C3281,2137 3292,2148 3290,2160 C3288,2170 3276,2172 3272,2164 C3270,2158 3276,2154 3280,2158"/>
<path d="M3150,2128 C3146,2120 3152,2112 3160,2112 M3292,2128 C3296,2120 3290,2112 3282,2112"/>
</g>
<g fill="none" stroke="#000" stroke-linecap="round">
<path d="M3210,2012 C3204,2003 3196,2000 3193,2006 C3191,2011 3197,2013 3199,2009 M3232,2012 C3238,2003 3246,2000 3249,2006 C3251,2011 3245,2013 3243,2009" stroke-width="3"/>
<path d="M3221,2076 V2178" stroke-width="2.5"/>
<path d="M3208,2140 C3210,2150 3216,2156 3221,2160 M3234,2140 C3232,2150 3226,2156 3221,2160" stroke-width="2.5"/>
<path d="M3221,2160 C3219,2175 3205,2183 3188,2182 C3175,2181 3168,2179 3160,2176 M3221,2160 C3223,2175 3237,2183 3254,2182 C3267,2181 3274,2179 3282,2176" stroke-width="3"/>
<path d="M3140,2178 C3125,2165 3105,2155 3088,2160 C3076,2165 3073,2180 3082,2188 C3088,2192 3094,2188 3092,2183" stroke-width="5"/>
<path d="M3302,2178 C3317,2165 3337,2155 3354,2160 C3366,2165 3369,2180 3360,2188 C3354,2192 3348,2188 3350,2183" stroke-width="5"/>
<path d="M3219,2180 C3213,2186 3209,2189 3209,2195 M3223,2180 C3229,2186 3233,2189 3233,2195" stroke-width="2"/>
</g>
<text x="3070" y="2290" font-family="'Liberation Serif', serif" font-size="84" textLength="305" lengthAdjust="spacingAndGlyphs">MAYTONI</text>
<text x="3115" y="2326" font-family="'Liberation Serif', serif" font-size="30" textLength="213" lengthAdjust="spacingAndGlyphs">CHANDELIERS</text>
<text x="3030" y="2394" font-family="'Liberation Sans', Arial, sans-serif" font-size="54" textLength="396" lengthAdjust="spacingAndGlyphs">www.maytoni.de</text>
</svg>
<script>
(function(){
var NS='http://www.w3.org/2000/svg';
var list=document.querySelectorAll('polyline.sm');
for(var k=0;k<list.length;k++){
 var pl=list[k];
 var pts=pl.getAttribute('points').trim().split(/\s+/).map(function(s){return s.split(',').map(Number);});
 var d='M'+pts[0][0]+','+pts[0][1];
 for(var i=0;i<pts.length-1;i++){
  var p0=pts[i-1]||pts[i],p1=pts[i],p2=pts[i+1],p3=pts[i+2]||p2;
  var c1x=p1[0]+(p2[0]-p0[0])/6,c1y=p1[1]+(p2[1]-p0[1])/6;
  var c2x=p2[0]-(p3[0]-p1[0])/6,c2y=p2[1]-(p3[1]-p1[1])/6;
  d+='C'+c1x.toFixed(1)+','+c1y.toFixed(1)+' '+c2x.toFixed(1)+','+c2y.toFixed(1)+' '+p2[0]+','+p2[1];
 }
 var p=document.createElementNS(NS,'path');
 for(var a=0;a<pl.attributes.length;a++){var at=pl.attributes[a];if(at.name!=='points')p.setAttribute(at.name,at.value);}
 p.setAttribute('d',d);
 pl.parentNode.replaceChild(p,pl);
}
})();
</script>
</body></html>
